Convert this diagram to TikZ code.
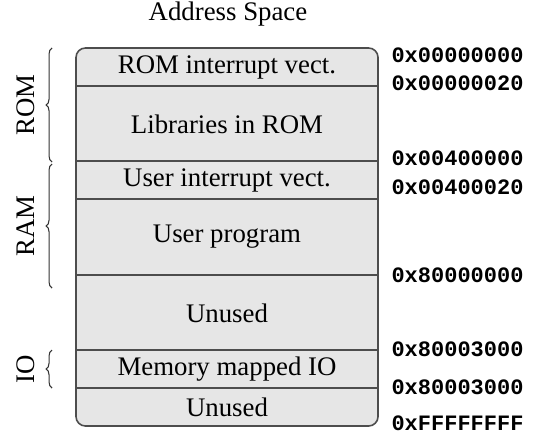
\documentclass[tikz,border=0pt]{standalone}
\usepackage{fontspec}
\setmainfont{Liberation Serif}
\setmonofont{Liberation Mono}
\usetikzlibrary{decorations.pathreplacing}
\definecolor{cellfill}{HTML}{E6E6E6}
\definecolor{edge}{HTML}{4D4D4D}
\tikzset{
  rowtext/.style={font=\fontsize{10}{12}\selectfont, inner sep=0pt},
  addr/.style={font=\fontsize{8.2}{10}\selectfont\ttfamily\bfseries, anchor=west, inner sep=0pt},
  sidelab/.style={font=\fontsize{10}{12}\selectfont, rotate=90, inner sep=0pt},
  divider/.style={draw=edge, line width=0.45pt},
  bracestyle/.style={draw=black!80, line width=0.4pt, decorate, decoration={brace, amplitude=2.2pt}}
}
\begin{document}
\begin{tikzpicture}[x=0.373pt,y=-0.373pt]
\useasboundingbox (0,0) rectangle (543,436);
\node[rowtext] (title) at (228,14) {Address Space};
% outer box
\draw[fill=cellfill, draw=edge, line width=0.6pt, rounded corners=3.5pt] (76,48) rectangle (378,426);
% row boundaries
\foreach \yy/\nm in {86/b1,161/b2,199/b3,275/b4,350/b5,388/b6}{
  \coordinate (\nm l) at (76,\yy);
  \coordinate (\nm r) at (378,\yy);
  \draw[divider] (\nm l) -- (\nm r);
}
% row texts
\node[rowtext] (r1) at (227,67) {ROM interrupt vect.};
\node[rowtext] (r2) at (227,124) {Libraries in ROM};
\node[rowtext] (r3) at (227,180) {User interrupt vect.};
\node[rowtext] (r4) at (227,237) {User program};
\node[rowtext] (r5) at (227,313) {Unused};
\node[rowtext] (r6) at (227,369) {Memory mapped IO};
\node[rowtext] (r7) at (227,407) {Unused};
% addresses
\node[addr] (a1) at (391,55) {0x00000000};
\node[addr] (a2) at (391,83) {0x00000020};
\node[addr] (a3) at (391,158) {0x00400000};
\node[addr] (a4) at (391,187) {0x00400020};
\node[addr] (a5) at (391,275) {0x80000000};
\node[addr] (a6) at (391,349) {0x80003000};
\node[addr] (a7) at (391,387) {0x80003000};
\node[addr] (a8) at (391,423) {0xFFFFFFFF};
% braces
\coordinate (romb) at (52,162);
\coordinate (romt) at (52,48);
\coordinate (ramb) at (52,288);
\coordinate (ramt) at (52,164);
\coordinate (iob) at (52,388);
\coordinate (iot) at (52,350);
\draw[bracestyle] (romb) -- (romt);
\draw[bracestyle] (ramb) -- (ramt);
\draw[bracestyle] (iob) -- (iot);
\node[sidelab] (lrom) at (26,105) {ROM};
\node[sidelab] (lram) at (26,226) {RAM};
\node[sidelab] (lio) at (26,369) {IO};
\end{tikzpicture}
\end{document}
